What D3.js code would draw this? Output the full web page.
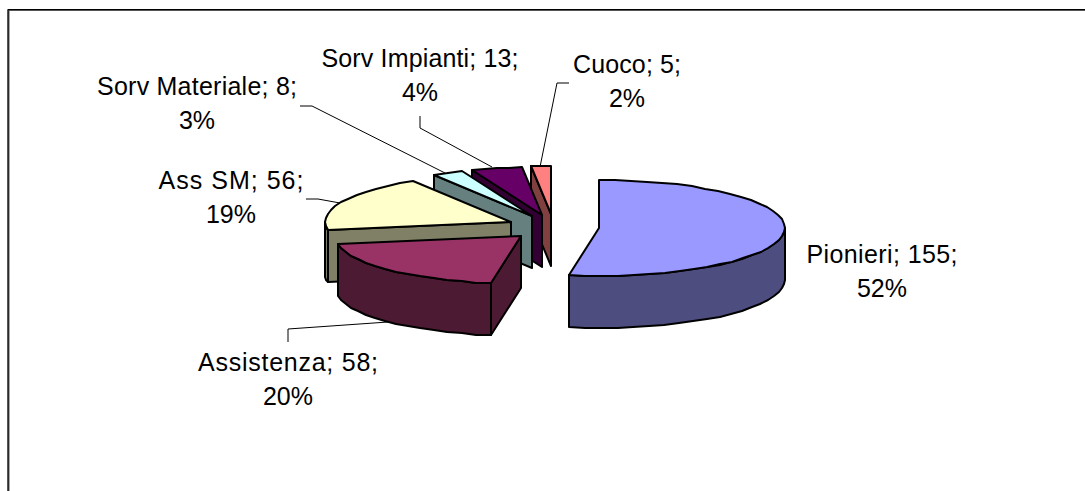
<!DOCTYPE html>
<html>
<head>
<meta charset="utf-8">
<script src="https://cdn.jsdelivr.net/npm/d3@7"></script>
<style>
html, body { margin: 0; padding: 0; background: #fff; overflow: hidden; }
text { font-family: "Liberation Sans", Arial, sans-serif; font-size: 25px; fill: #000; }
</style>
</head>
<body>
<div id="chart"></div>
<script>
// Chart data
const categories = ["Pionieri", "Assistenza", "Ass SM", "Sorv Materiale", "Sorv Impianti", "Cuoco"];
const values = [155, 58, 56, 8, 13, 5];
const percents = [52, 20, 19, 3, 4, 2];
const topColors = ["#9999ff", "#993366", "#ffffcc", "#ccffff", "#660066", "#ff8080"];
const sideColors = ["#4d4d80", "#4d1a33", "#808066", "#668080", "#330033", "#804040"];

// Label placement: centre x, first baseline, width of the first line
const labelX = [882, 288, 231, 197, 420, 627];
const labelY = [263, 371, 189, 95, 67, 73];
const labelW = [151, 180, 145, 200, 197, 108];

// Leader lines from label to slice
const leaders = [
    null,
    [[288, 342], [288, 329], [388, 322]],
    [[306, 199], [318, 199], [340, 203]],
    [[300, 106], [312, 106], [445, 173]],
    [[420, 116], [420, 128], [492, 167]],
    [[569, 83], [557, 83], [540, 167]]
];

const width = 1085;
const height = 491;

// Pie projection
const centerX = 553;
const centerY = 227;
const radiusX = 186;
const radiusY = 48;
const depth = 52;
const explode = 46;
const explodeY = 12.7;
const lineWidth = 2;

const svg = d3.select("#chart")
    .append("svg")
    .attr("width", width)
    .attr("height", height)
    .style("display", "block");

// Chart frame runs off the right and bottom of the picture
svg.append("path")
    .attr("d", "M8.5," + (height + 5) + "V10H" + (width + 5))
    .attr("fill", "none")
    .attr("stroke", "#555")
    .attr("stroke-width", 2);
svg.append("path")
    .attr("d", "M8," + (height + 5) + "V9.5H" + (width + 5))
    .attr("fill", "none")
    .attr("stroke", "#000")
    .attr("stroke-width", 1);

const arcs = d3.pie().sort(null)(values);
const line = d3.line();

// Point on the pie rim, angle clockwise from 12 o'clock
function rim(apex, a) {
    return [Math.round(apex[0] + radiusX * Math.sin(a)), Math.round(apex[1] - radiusY * Math.cos(a))];
}

function rimPoints(apex, a0, a1) {
    const pts = [];
    const n = Math.max(1, Math.ceil((a1 - a0) / (Math.PI / 36)));
    for (let i = 0; i <= n; i++) pts.push(rim(apex, a0 + (a1 - a0) * i / n));
    return pts;
}

function down(p) {
    return [p[0], p[1] + depth];
}

function drawFace(g, pts, color) {
    g.append("path")
        .attr("d", line(pts) + "Z")
        .attr("fill", color)
        .attr("stroke", "#000")
        .attr("stroke-width", lineWidth)
        .attr("stroke-linejoin", "round");
}

// Back slices first so the front ones overlap them
const drawOrder = [5, 4, 3, 2, 1, 0];

drawOrder.forEach(i => {
    const d = arcs[i];
    const mid = (d.startAngle + d.endAngle) / 2;
    const apex = [centerX + explode * Math.sin(mid), centerY - explodeY * Math.cos(mid)];
    apex[0] = Math.round(apex[0]);
    apex[1] = Math.round(apex[1]);
    const g = svg.append("g").attr("class", "slice");

    // Cut wall on the start edge, only if it faces the viewer
    if (Math.cos(d.startAngle - Math.PI / 2) < -0.001) {
        const p = rim(apex, d.startAngle);
        drawFace(g, [apex, p, down(p), down(apex)], sideColors[i]);
    }

    // Outer wall, only the part on the front half of the pie
    const a0 = Math.max(d.startAngle, Math.PI / 2);
    const a1 = Math.min(d.endAngle, Math.PI * 1.5);
    if (a1 > a0) {
        const pts = rimPoints(apex, a0, a1);
        drawFace(g, pts.concat(pts.slice().reverse().map(down)), sideColors[i]);
    }

    // Top face
    drawFace(g, [apex].concat(rimPoints(apex, d.startAngle, d.endAngle)), topColors[i]);
});

// Leader lines
svg.selectAll(".leader")
    .data(leaders.filter(d => d))
    .enter()
    .append("path")
    .attr("class", "leader")
    .attr("d", d => line(d))
    .attr("fill", "none")
    .attr("stroke", "#000")
    .attr("stroke-width", 1);

// Data labels, two lines each
categories.forEach((c, i) => {
    svg.append("text")
        .attr("x", labelX[i])
        .attr("y", labelY[i])
        .attr("text-anchor", "middle")
        .attr("textLength", labelW[i])
        .attr("lengthAdjust", "spacing")
        .text(c + "; " + values[i] + ";");
    svg.append("text")
        .attr("x", labelX[i])
        .attr("y", labelY[i] + 34)
        .attr("text-anchor", "middle")
        .text(percents[i] + "%");
});
</script>
</body>
</html>
